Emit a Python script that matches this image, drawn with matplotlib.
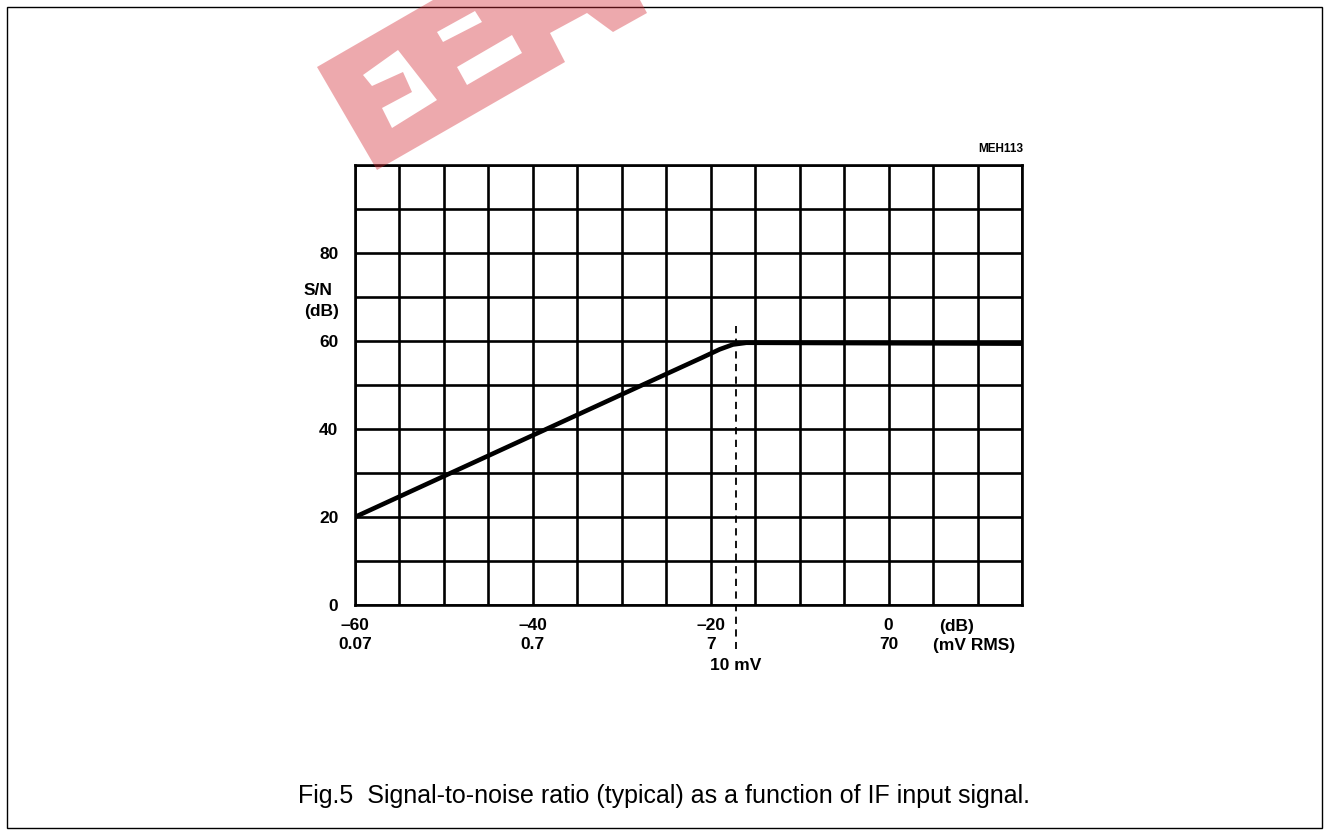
"""S/N versus IF input signal, datasheet style figure."""

import matplotlib.pyplot as plt
from matplotlib.patches import Polygon, Rectangle
import numpy as np

# data
input_db = [-60, -25, -21, -19, -17.5, -16, 15]
sn_db = [20, 52.5, 56.2, 58.1, 59.2, 59.6, 59.4]
marker_db = -17.2  # 10 mV

xticks = [-60, -40, -20, 0]
xtick_labels = ["\u201360\n0.07", "\u201340\n0.7", "\u201320\n7", "0\n70"]
yticks = [0, 20, 40, 60, 80]

plt.rcParams["font.family"] = ["Liberation Sans", "DejaVu Sans"]

W, H = 1328, 835
fig = plt.figure(figsize=(W / 100, H / 100), dpi=100)


def px(x, y):
    return (x / W, 1 - y / H)


# outer frame
fig.patches.append(Rectangle(px(7, 828), 1315 / W, 821 / H, transform=fig.transFigure,
                             fill=False, edgecolor="black", linewidth=1.0, zorder=0))

# watermark (rough trace)
band = [(317, 67), (377, 170), (565, 62), (550, 33), (587, 13), (613, 32),
        (647, 13), (640, 0), (433, 0)]
fig.patches.append(Polygon([px(*p) for p in band], closed=True, transform=fig.transFigure,
                           facecolor="#d42a33", alpha=0.4, edgecolor="none", zorder=1))
for hole in (
    [(363, 75), (398, 50), (437, 100), (392, 128), (382, 108), (412, 92),
     (403, 72), (372, 86)],
    [(437, 32), (443, 42), (482, 22), (475, 11)],
    [(457, 67), (467, 85), (522, 53), (512, 35)],
):
    fig.patches.append(Polygon([px(*p) for p in hole], closed=True,
                               transform=fig.transFigure, facecolor="white",
                               edgecolor="none", zorder=1.5))

ax = fig.add_axes([355 / W, 1 - 605 / H, (1022 - 355) / W, (605 - 165) / H])
ax.set_xlim(-60, 15)
ax.set_ylim(0, 100)
ax.set_facecolor("none")

fs = 12.5
ax.set_xticks(np.arange(-60, 16, 5), minor=True)
ax.set_yticks(np.arange(0, 101, 10), minor=True)
ax.set_xticks(xticks)
ax.set_xticklabels(xtick_labels, fontweight="bold", fontsize=fs, linespacing=1.35)
ax.set_yticks(yticks)
ax.set_yticklabels([str(v) for v in yticks], fontweight="bold", fontsize=fs)
ax.tick_params(which="both", length=0)
ax.tick_params(axis="x", pad=9)
ax.tick_params(axis="y", pad=12)
ax.grid(True, which="both", color="black", linewidth=1.9)
for s in ax.spines.values():
    s.set_linewidth(1.9)

ax.plot(input_db, sn_db, color="black", linewidth=3.3, solid_capstyle="butt", zorder=3)
ax.plot([marker_db, marker_db], [63.5, -10], color="black", linewidth=1.3,
        linestyle=(0, (4, 3)), clip_on=False, zorder=3)

ax.text(marker_db, -13.8, "10 mV", ha="center", va="center", fontweight="bold",
        fontsize=fs)
ax.text(7.6, -5.0, "(dB)", ha="center", va="center", fontweight="bold", fontsize=fs,
        clip_on=False)
ax.text(9.6, -9.3, "(mV RMS)", ha="center", va="center", fontweight="bold",
        fontsize=fs, clip_on=False)
fig.text(*px(304, 283), "S/N\n(dB)", ha="left", va="top", fontweight="bold",
         fontsize=fs, linespacing=1.5)
fig.text(*px(1023, 149), "MEH113", ha="right", va="center", fontweight="bold",
         fontsize=8.5)

fig.text(*px(664, 796), "Fig.5  Signal-to-noise ratio (typical) as a function of IF input signal.",
         ha="center", va="center", fontsize=18)

fig.savefig("out.png", dpi=100)
